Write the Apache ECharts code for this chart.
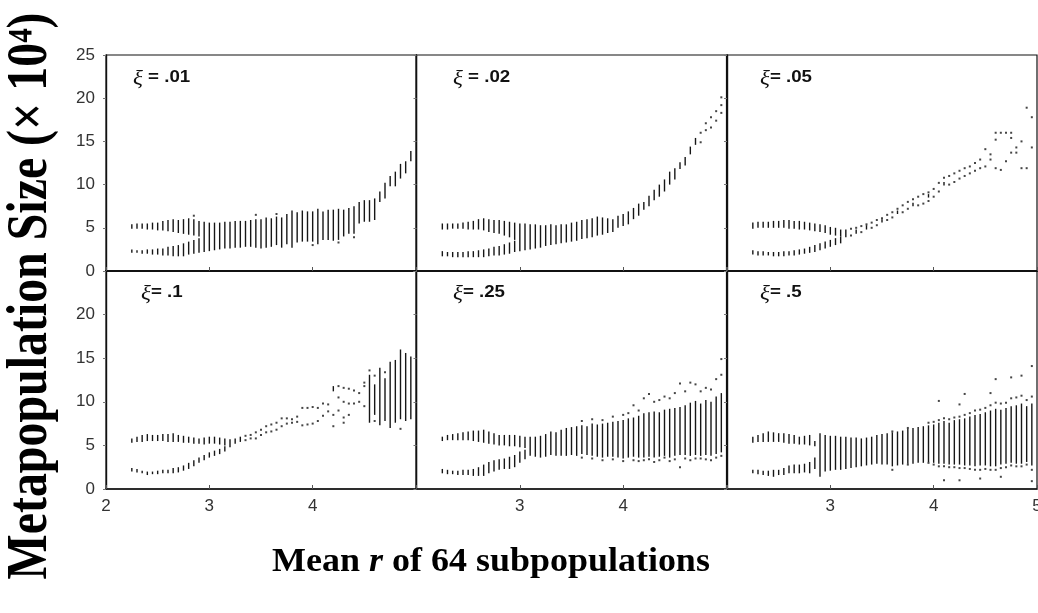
<!DOCTYPE html>
<html>
<head>
<meta charset="utf-8">
<script src="https://cdn.jsdelivr.net/npm/echarts@6/dist/echarts.min.js"></script>
<style>
html,body{margin:0;padding:0;background:#fff;}
#chart{width:1038px;height:613px;}
</style>
</head>
<body>
<div id="chart"></div>
<script>
// ---------- DATA ----------
// Panel labels (xi value after the symbol)
const panelXi = [' = .01', ' = .02', '= .05', '= .1', '= .25', '= .5'];
// Tick labels shown on each panel
const xTickLabels = [[2, 3, 4], [3, 4], [3, 4, 5], [2, 3, 4], [3, 4], [3, 4, 5]];
const yTickLabelsTop = [0, 5, 10, 15, 20, 25];
const yTickLabelsBottom = [0, 5, 10, 15, 20];

// Columns: [r, lo, hi, lo, hi, ...]  (vertical bands of the attractor)
const xi01Cols = [
 [2.25,4.9,5.4,2.1,2.5],[2.30,4.9,5.5,2.1,2.4],[2.35,4.9,5.5,2.0,2.4],[2.40,4.8,5.5,2.0,2.5],
 [2.45,4.8,5.6,1.9,2.5],[2.50,4.7,5.6,1.9,2.6],[2.55,4.7,5.8,1.8,2.6],[2.60,4.6,5.9,1.8,2.8],
 [2.65,4.5,6.0,1.7,2.9],[2.70,4.4,5.9,1.7,3.0],[2.75,4.3,6.0,1.7,3.2],[2.80,4.2,6.1,1.9,3.4],
 [2.85,4.1,6.0,2.0,3.6],[2.90,4.0,5.8,2.1,3.8],[2.95,2.2,5.7],[3.00,2.3,5.6],[3.05,2.4,5.6],
 [3.10,2.5,5.6],[3.15,2.6,5.7],[3.20,2.6,5.7],[3.25,2.7,5.8],[3.30,2.7,5.8],[3.35,2.8,5.8],
 [3.40,2.8,5.9],[3.45,2.7,6.0],[3.50,2.6,6.0],[3.55,2.7,6.2],[3.60,2.8,6.1],[3.65,3.0,6.3],
 [3.70,2.7,6.2],[3.75,3.1,6.6],[3.80,2.7,7.0],[3.85,3.3,6.8],[3.90,3.4,7.0],[3.95,3.4,6.9],
 [4.00,3.4,6.9],[4.05,3.1,7.2],[4.10,3.6,6.9],[4.15,3.6,7.1],[4.20,3.5,7.1],[4.25,3.6,7.2],
 [4.30,4.0,7.1],[4.35,4.3,7.3],[4.40,4.3,7.5],[4.45,5.5,8.0],[4.50,5.7,8.2],[4.55,5.7,8.2],
 [4.60,5.9,8.4],[4.65,8.0,9.2],[4.70,8.4,10.2],[4.75,9.8,11.0],[4.80,9.8,11.5],[4.85,10.7,12.4],
 [4.90,11.3,12.7],[4.95,12.7,13.9]
];
const xi01Dots = [[2.85,6.4],[3.45,6.5],[3.65,6.6],[4.00,3.0],[4.25,3.3],[4.40,3.9]];

const xi02Cols = [
 [2.25,4.8,5.5,1.7,2.3],[2.30,4.8,5.5,1.7,2.2],[2.35,4.9,5.5,1.6,2.2],[2.40,4.9,5.5,1.6,2.2],
 [2.45,4.9,5.6,1.6,2.2],[2.50,4.8,5.7,1.6,2.3],[2.55,4.8,5.8,1.6,2.3],[2.60,4.8,6.0,1.6,2.4],
 [2.65,4.7,6.1,1.6,2.5],[2.70,4.5,6.0,1.7,2.6],[2.75,4.4,5.9,1.8,2.8],[2.80,4.3,5.9,1.8,2.9],
 [2.85,4.1,5.8,1.9,3.1],[2.90,3.9,5.7,2.0,3.3],[2.95,3.6,5.6,2.2,3.5],[3.00,2.3,5.5],
 [3.05,2.4,5.5],[3.10,2.5,5.4],[3.15,2.6,5.4],[3.20,2.7,5.3],[3.25,2.9,5.3],[3.30,3.0,5.4],
 [3.35,3.1,5.3],[3.40,3.2,5.4],[3.45,3.3,5.4],[3.50,3.4,5.6],[3.55,3.5,5.7],[3.60,3.7,5.9],
 [3.65,3.8,6.0],[3.70,3.9,6.1],[3.75,4.1,6.3],[3.80,4.2,6.2],[3.85,4.4,6.1],[3.90,4.5,6.0],
 [3.95,5.0,6.4],[4.00,5.2,6.6],[4.05,5.4,6.9],[4.10,6.0,7.3],[4.15,6.4,7.8],[4.20,7.1,8.0],
 [4.25,7.5,8.7],[4.30,8.2,9.4],[4.35,8.6,10.0],[4.40,9.2,10.6],[4.45,10.0,11.5],[4.50,10.6,11.9],
 [4.55,11.8,12.6],[4.60,12.2,13.2],[4.65,13.5,14.4],[4.70,14.6,15.4]
];
const xi02Dots = [[4.75,14.9,16.0],[4.80,16.3,17.1],[4.85,16.6,17.8],[4.90,17.4,18.5],[4.95,18.3,19.2,20.1]];

const xi05Cols = [
 [2.25,4.9,5.6,1.9,2.4],[2.30,5.0,5.7,1.8,2.3],[2.35,5.0,5.7,1.8,2.3],[2.40,5.0,5.7,1.8,2.2],
 [2.45,5.0,5.8,1.7,2.2],[2.50,5.0,5.8,1.7,2.2],[2.55,5.0,5.9,1.7,2.3],[2.60,4.9,5.9,1.8,2.3],
 [2.65,4.9,5.8,1.8,2.4],[2.70,4.8,5.8,1.9,2.5],[2.75,4.8,5.7,2.0,2.6],[2.80,4.7,5.6,2.1,2.8],
 [2.85,4.6,5.5,2.2,3.0],[2.90,4.5,5.4,2.4,3.2],[2.95,4.4,5.3,2.6,3.4],[3.00,4.2,5.1,2.8,3.6],
 [3.05,4.1,5.0,3.0,3.8],[3.10,4.0,4.8,3.2,4.0],[3.15,3.9,4.8],[3.25,4.3,4.8],[3.35,4.8,5.3],
 [3.50,5.6,6.0],[3.65,6.6,7.0],[3.80,7.5,7.9],[3.95,8.5,8.9],[4.10,9.9,10.3]
];
const xi05Dots = [
 [3.20,4.1,4.9],[3.25,5.0],[3.30,4.5,5.2],[3.35,5.4],[3.40,5.0,5.6],[3.45,5.3,5.9],[3.50,6.1],
 [3.55,5.9,6.5],[3.60,6.2,6.8],[3.65,7.2],[3.70,6.8,7.6],[3.75,7.2,8.0],[3.80,8.3],
 [3.85,7.6,8.6],[3.90,7.8,8.9],[3.95,8.1,9.1],[4.00,8.6,9.5],[4.05,9.2,10.2],[4.10,10.8],
 [4.15,10.0,11.0],[4.20,10.3,11.3],[4.25,10.7,11.6],[4.30,11.0,11.9],[4.35,11.3,12.1],[4.40,11.6,12.5],
 [4.45,11.9,12.9],[4.50,12.1,14.1],[4.55,12.9,13.5],[4.60,11.9,15.2,16.0],[4.65,11.7,16.0],
 [4.70,12.7,16.0],[4.75,13.7,15.4,16.0],[4.80,13.7,14.3],[4.85,11.9,15.0],[4.90,11.9,18.9],
 [4.95,14.3,17.8]
];

const xi1Cols = [
 [2.25,5.3,5.8,2.0,2.4],[2.30,5.4,6.0,1.9,2.3],[2.35,5.4,6.2,1.8,2.1],[2.40,5.5,6.3,1.6,2.0],
 [2.45,5.5,6.2,1.7,2.0],[2.50,5.5,6.2,1.7,2.1],[2.55,5.5,6.3,1.8,2.2],[2.60,5.4,6.3,1.8,2.2],
 [2.65,5.4,6.4,1.8,2.4],[2.70,5.4,6.2,1.9,2.5],[2.75,5.3,6.1,2.1,2.7],[2.80,5.3,6.0,2.3,3.0],
 [2.85,5.2,5.9,2.6,3.3],[2.90,5.2,5.8,3.0,3.6],[2.95,5.1,5.9,3.3,3.9],[3.00,5.2,6.0,3.6,4.2],
 [3.05,5.2,6.0,3.8,4.4],[3.10,5.1,5.9,4.0,4.6],[3.15,5.0,5.8,4.3,4.9],[3.20,4.8,5.7],
 [3.25,5.2,5.8],[3.30,5.4,6.0],[4.20,11.2,11.8],[4.55,7.6,13.1],[4.60,8.5,12.0],[4.65,7.3,13.9],
 [4.70,7.8,12.7],[4.75,7.0,14.6],[4.80,7.6,14.8],[4.85,8.0,16.0],[4.90,7.8,15.6],[4.95,8.0,15.2]
];
const xi1Dots = [
 [3.35,5.6,6.1],[3.40,5.8,6.2],[3.45,5.8,6.5],[3.50,6.2,6.8],[3.55,6.5,7.2],[3.60,6.6,7.4],
 [3.65,6.8,7.6],[3.70,7.2,8.1],[3.75,7.5,8.1],[3.80,7.6,8.0],[3.85,7.7,8.3],[3.90,7.3,9.3],
 [3.95,7.4,9.3],[4.00,7.5,9.4],[4.05,7.8,9.3],[4.10,8.4,9.8],[4.15,8.9,9.7],[4.20,7.2,8.5],
 [4.25,9.0,10.5,11.8],[4.30,7.6,8.2,10.0,11.6],[4.35,8.5,9.8,11.5],[4.40,9.8,11.3],
 [4.45,10.0,11.0],[4.50,9.5,11.8,12.2],[4.55,13.6],[4.60,7.8,13.0],[4.70,13.4],[4.85,6.9]
];

const xi25Cols = [
 [2.25,5.5,6.0,1.8,2.3],[2.30,5.6,6.2,1.7,2.2],[2.35,5.6,6.3,1.7,2.1],[2.40,5.6,6.4,1.6,2.1],
 [2.45,5.6,6.5,1.6,2.2],[2.50,5.6,6.6,1.6,2.2],[2.55,5.5,6.7,1.5,2.3],[2.60,5.4,6.7,1.5,2.5],
 [2.65,5.3,6.8,1.5,2.8],[2.70,5.2,6.6,1.8,3.1],[2.75,5.1,6.4,2.0,3.3],[2.80,5.0,6.2,2.2,3.4],
 [2.85,5.0,6.2,2.3,3.5],[2.90,4.9,6.2,2.3,3.7],[2.95,4.9,6.2,2.5,3.9],[3.00,4.8,6.1,3.0,4.3],
 [3.05,4.7,6.0,3.4,4.5],[3.10,3.8,6.0],[3.15,3.7,6.0],[3.20,3.6,6.1],[3.25,3.7,6.3],
 [3.30,3.9,6.6],[3.35,3.8,6.5],[3.40,3.8,6.8],[3.45,3.8,7.0],[3.50,3.9,7.1],[3.55,3.8,7.2],
 [3.60,4.0,7.3],[3.65,3.9,7.2],[3.70,3.8,7.5],[3.75,3.7,7.4],[3.80,3.6,7.5],[3.85,3.7,7.6],
 [3.90,3.7,7.7],[3.95,3.6,7.8],[4.00,3.5,7.9],[4.05,3.6,8.1],[4.10,3.7,8.2],[4.15,3.6,8.4],
 [4.20,3.6,8.7],[4.25,3.7,8.8],[4.30,3.6,8.9],[4.35,3.7,8.8],[4.40,3.8,9.1],[4.45,3.6,9.2],
 [4.50,3.8,9.3],[4.55,3.9,9.4],[4.60,3.9,9.6],[4.65,3.8,9.9],[4.70,3.9,10.1],[4.75,3.8,9.8],
 [4.80,3.9,10.2],[4.85,3.8,10.0],[4.90,4.0,10.6],[4.95,4.2,11.0]
];
const xi25Dots = [
 [3.60,3.6,7.8],[3.70,3.5,8.0],[3.80,3.3,7.9],[3.90,3.4,8.3],[4.00,3.2,8.5],[4.05,8.7],
 [4.10,3.3,9.6],[4.15,3.2,9.0],[4.20,3.3,10.4],[4.25,3.4,10.9],[4.30,3.1,10.0],[4.35,3.3,10.2],
 [4.40,3.6,10.6],[4.45,3.2,10.4],[4.50,3.4,11.0],[4.55,2.5,12.1],[4.60,3.5,11.2],[4.65,3.3,12.2],
 [4.70,3.5,12.0],[4.75,3.5,11.2],[4.80,3.4,11.6],[4.85,3.3,11.4],[4.90,3.6,12.6],[4.95,3.8,13.1,14.9]
];

const xi5Cols = [
 [2.25,5.3,6.0,1.8,2.2],[2.30,5.4,6.2,1.7,2.2],[2.35,5.4,6.4,1.6,2.1],[2.40,5.4,6.6,1.5,2.1],
 [2.45,5.4,6.5,1.4,2.2],[2.50,5.4,6.4,1.6,2.2],[2.55,5.3,6.4,1.6,2.4],[2.60,5.2,6.3,1.8,2.7],
 [2.65,5.2,6.2,1.8,2.8],[2.70,5.1,6.0,1.8,2.8],[2.75,5.1,6.1,1.9,2.9],[2.80,5.0,6.2,1.8,3.1],
 [2.85,4.9,5.5,2.3,3.6],[2.90,1.4,6.4],[2.95,2.0,6.2],[3.00,2.1,6.1],[3.05,2.2,6.1],
 [3.10,2.2,6.0],[3.15,2.3,6.0],[3.20,2.4,5.9],[3.25,2.5,5.9],[3.30,2.6,5.8],[3.35,2.7,5.9],
 [3.40,2.8,6.0],[3.45,2.9,6.2],[3.50,2.8,6.3],[3.55,2.8,6.4],[3.60,2.6,6.5],[3.65,2.7,6.6],
 [3.70,2.8,6.7],[3.75,2.9,6.9],[3.80,2.9,7.0],[3.85,3.0,7.1],[3.90,3.0,7.2],[3.95,3.1,7.3],
 [4.00,3.0,7.4],[4.05,2.9,7.6],[4.10,2.9,7.8],[4.15,2.8,7.6],[4.20,2.8,7.9],[4.25,2.8,8.0],
 [4.30,2.7,8.1],[4.35,2.7,8.3],[4.40,2.6,8.5],[4.45,2.7,8.6],[4.50,2.7,8.8],[4.55,2.6,9.0],
 [4.60,2.6,9.2],[4.65,2.8,9.1],[4.70,2.9,9.3],[4.75,3.0,9.5],[4.80,2.9,9.6],[4.85,2.9,9.8],
 [4.90,3.1,9.5],[4.95,2.7,9.8]
];
const xi5Dots = [
 [3.60,2.2,6.6],[3.75,2.8,7.0],[3.95,3.0,7.6],[4.00,2.8,7.7],[4.05,2.6,7.9,10.1],[4.10,2.6,8.1,1.0],
 [4.15,2.5,8.0],[4.20,2.5,8.2],[4.25,2.4,8.3,9.7,1.0],[4.30,2.4,8.5,10.9],[4.35,2.3,8.7],
 [4.40,2.2,9.0],[4.45,2.2,9.1,1.2],[4.50,2.3,9.3],[4.55,2.2,9.6,11.0],[4.60,2.2,9.9,12.6],
 [4.65,2.4,9.8,1.4],[4.70,2.5,9.9],[4.75,2.7,10.4,12.8],[4.80,2.6,10.5],[4.85,2.6,10.7,13.0],
 [4.90,2.8,10.2],[4.95,2.2,10.6,14.1,0.9]
];

// ---------- CHART ----------
const panelCols = [xi01Cols, xi02Cols, xi05Cols, xi1Cols, xi25Cols, xi5Cols];
const panelDots = [xi01Dots, xi02Dots, xi05Dots, xi1Dots, xi25Dots, xi5Dots];

const chart = echarts.init(document.getElementById('chart'), null, {renderer: 'canvas'});
const INK = '#161616';
const lefts = [106, 416.5, 727];
const tops = [55, 271];
const heights = [216, 218];
const grids = [], xAxes = [], yAxes = [], series = [], labels = [];

for (let i = 0; i < 6; i++) {
  const col = i % 3, row = Math.floor(i / 3);
  grids.push({left: lefts[col], top: tops[row], width: 310, height: heights[row],
    show: true, borderColor: '#111', borderWidth: 1.2, backgroundColor: 'transparent',
    outerBoundsMode: 'none'});
  const showX = row === 1 ? xTickLabels[i] : [];
  xAxes.push({gridIndex: i, type: 'value', min: 2, max: 5, interval: 1,
    axisLine: {show: true, onZero: false, lineStyle: {color: '#111', width: row === 0 ? 2.2 : 1.6}},
    axisTick: {show: true, inside: true, length: 4, lineStyle: {color: '#555'}},
    splitLine: {show: false},
    axisLabel: {show: row === 1, margin: 9, fontSize: 17, color: '#333', fontFamily: 'Liberation Sans',
      showMinLabel: true, showMaxLabel: true,
      formatter: v => showX.indexOf(v) >= 0 ? String(v) : ''}
  });
  const showY = col === 0 ? (row === 0 ? yTickLabelsTop : yTickLabelsBottom) : [];
  yAxes.push({gridIndex: i, type: 'value', min: 0, max: 25, interval: 5,
    axisLine: {show: true, lineStyle: {color: '#111', width: 1.4}},
    axisTick: {show: true, inside: false, length: 3, lineStyle: {color: '#777'}},
    splitLine: {show: false},
    axisLabel: {show: col === 0, margin: 11, fontSize: 17, color: '#333', fontFamily: 'Liberation Sans',
      showMinLabel: true, showMaxLabel: true,
      formatter: v => showY.indexOf(v) >= 0 ? String(v) : ''}
  });

  const segs = [];
  panelCols[i].forEach(c => { for (let k = 1; k + 1 < c.length; k += 2) segs.push([c[0], c[k], c[k + 1]]); });
  const pts = [];
  panelDots[i].forEach(d => { for (let k = 1; k < d.length; k++) pts.push([d[0], d[k]]); });

  series.push({
    type: 'custom', xAxisIndex: i, yAxisIndex: i, data: segs, silent: true, animation: false,
    encode: {x: 0, y: [1, 2]},
    renderItem: (params, api) => {
      const a = api.coord([api.value(0), api.value(2)]);
      const b = api.coord([api.value(0), api.value(1)]);
      return {type: 'rect', shape: {x: a[0] - 0.7, y: a[1], width: 1.4, height: Math.max(1.5, b[1] - a[1])},
        style: {fill: INK}};
    }
  });
  series.push({
    type: 'scatter', xAxisIndex: i, yAxisIndex: i, data: pts, silent: true, animation: false,
    symbol: 'rect', symbolSize: 2, itemStyle: {color: INK}
  });

  const labelX = [133, 453, 760, 141, 453, 760][i];
  labels.push({type: 'text', x: labelX, y: row === 0 ? 77 : 292, scaleX: 1.1, scaleY: 1, silent: true,
    style: {text: '{g|\u03BE}{t|' + panelXi[i] + '}', align: 'left', verticalAlign: 'middle',
      rich: {
        g: {fontSize: 21, fontStyle: 'italic', fontWeight: 'normal', fontFamily: 'Liberation Serif', fill: '#111', padding: [5, 0, 0, 0]},
        t: {fontSize: 17, fontWeight: 'bold', fontFamily: 'Liberation Sans', fill: '#111'}
      }}});
}

chart.setOption({
  animation: false,
  backgroundColor: '#fff',
  grid: grids,
  xAxis: xAxes,
  yAxis: yAxes,
  series: series,
  graphic: labels.concat([
    {type: 'text', x: 31, y: 296, rotation: Math.PI / 2, scaleX: 0.84, scaleY: 1, silent: true,
      style: {text: 'Metapopulation Size (\u00D7 10\u2074)', fontSize: 57, fontWeight: 'bold',
        fontFamily: 'Liberation Serif', fill: '#000', align: 'center', verticalAlign: 'middle'}},
    {type: 'text', x: 491, y: 562, scaleX: 1.09, scaleY: 1, silent: true,
      style: {text: 'Mean {i|r} of 64 subpopulations', fontSize: 33, fontWeight: 'bold',
        fontFamily: 'Liberation Serif', fill: '#000', align: 'center', verticalAlign: 'middle',
        rich: {i: {fontStyle: 'italic', fontSize: 33, fontWeight: 'bold', fontFamily: 'Liberation Serif', fill: '#000'}}}}
  ])
});
</script>
</body>
</html>
